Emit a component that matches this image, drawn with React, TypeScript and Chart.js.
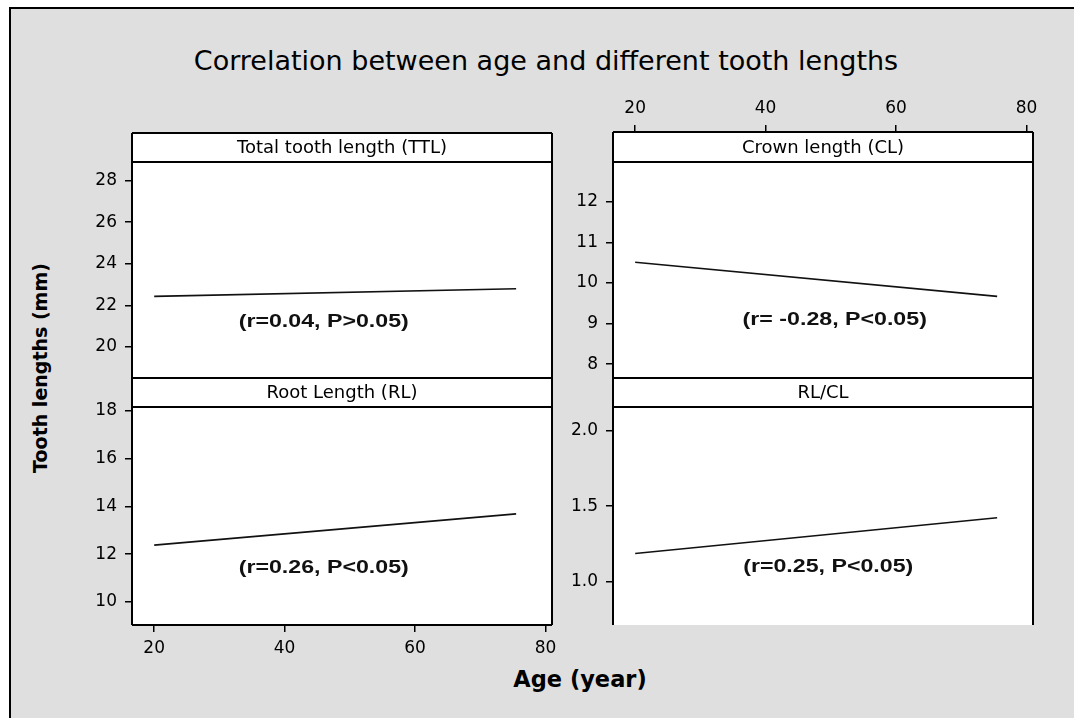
import React, { useEffect, useRef } from 'react';
import { Chart, registerables } from 'chart.js';

Chart.register(...registerables);

// ---- data ----
const ageFit = [20, 75.5];
const ttlFit = [22.43, 22.8];
const clFit = [10.51, 9.67];
const rlFit = [12.38, 13.69];
const ratioFit = [1.186, 1.423];

const xTicks = [20, 40, 60, 80];
const ttlTicks = [20, 22, 24, 26, 28];
const clTicks = [8, 9, 10, 11, 12];
const rlTicks = [10, 12, 14, 16, 18];
const ratioTicks = [1.0, 1.5, 2.0];
const ratioTickLabels = ['1.0', '1.5', '2.0'];

const xRange = [16.6, 81.0];
const ttlRange = [18.5, 28.9];
const clRange = [7.66, 12.98];
const rlRange = [9.03, 18.17];
const ratioRange = [0.71, 2.16];

const panelTitles = ['Total tooth length (TTL)', 'Crown length (CL)', 'Root Length (RL)', 'RL/CL'];
const annotations = ['(r=0.04, P>0.05)', '(r= -0.28, P<0.05)', '(r=0.26, P<0.05)', '(r=0.25, P<0.05)'];
const annotationAge = [46.0, 50.6, 46.0, 49.6];
const annotationValue = [21.23, 9.1, 11.44, 1.097];

const chartTitle = 'Correlation between age and different tooth lengths';
const yTitle = 'Tooth lengths (mm)';
const xTitle = 'Age (year)';

// ---- layout (pixels) ----
const W = 1074;
const H = 718;
const Y_W = 50;
const X_H = 40;
type PanelLayout = { left: number; right: number; top: number; header: number; bottom: number; xAxis: 'none' | 'top' | 'bottom'; bottomBorder: boolean };
const layouts: PanelLayout[] = [
  { left: 132, right: 552, top: 133, header: 29, bottom: 378, xAxis: 'none', bottomBorder: true },
  { left: 613, right: 1033, top: 132, header: 30, bottom: 378, xAxis: 'top', bottomBorder: true },
  { left: 132, right: 552, top: 378, header: 29, bottom: 625, xAxis: 'bottom', bottomBorder: true },
  { left: 613, right: 1033, top: 378, header: 29, bottom: 625, xAxis: 'none', bottomBorder: false },
];

const fits = [ttlFit, clFit, rlFit, ratioFit];
const yTicksAll = [ttlTicks, clTicks, rlTicks, ratioTicks];
const yLabelsAll: (string[] | null)[] = [null, null, null, ratioTickLabels];
const yRanges = [ttlRange, clRange, rlRange, ratioRange];

const TICK_FONT = { family: '"DejaVu Sans", sans-serif', size: 17 };

function makeConfig(i: number): any {
  const L = layouts[i];
  const [vMin, vMax] = yRanges[i];
  const plotTop = L.top + L.header;
  const extMax = vMax + ((vMax - vMin) * L.header) / (L.bottom - plotTop);
  const yTicks = yTicksAll[i];
  const yLabels = yLabelsAll[i];
  const showX = L.xAxis !== 'none';

  const panelPlugin = {
    id: 'panel' + i,
    beforeDraw(chart: any) {
      const { ctx, chartArea: a } = chart;
      ctx.save();
      ctx.fillStyle = '#ffffff';
      ctx.fillRect(a.left, a.top, a.right - a.left, a.bottom - a.top);
      ctx.restore();
    },
    afterDraw(chart: any) {
      const { ctx, chartArea: a } = chart;
      const hb = a.top + L.header;
      ctx.save();
      ctx.strokeStyle = '#000';
      ctx.lineWidth = 2;
      ctx.beginPath();
      ctx.moveTo(a.left, a.top);
      ctx.lineTo(a.right, a.top);
      ctx.moveTo(a.left, hb);
      ctx.lineTo(a.right, hb);
      ctx.moveTo(a.left, a.top);
      ctx.lineTo(a.left, a.bottom);
      ctx.moveTo(a.right, a.top);
      ctx.lineTo(a.right, a.bottom);
      if (L.bottomBorder) {
        ctx.moveTo(a.left, a.bottom);
        ctx.lineTo(a.right, a.bottom);
      }
      ctx.stroke();
      // header text
      ctx.fillStyle = '#000';
      ctx.font = '18px "DejaVu Sans", sans-serif';
      ctx.textAlign = 'center';
      ctx.textBaseline = 'middle';
      ctx.fillText(panelTitles[i], (a.left + a.right) / 2, a.top + L.header / 2 + 1);
      // annotation
      const ax = chart.scales.x.getPixelForValue(annotationAge[i]);
      const ay = chart.scales.y.getPixelForValue(annotationValue[i]);
      ctx.translate(ax, ay);
      ctx.scale(1.22, 1);
      ctx.font = 'bold 19px "Liberation Sans", Arial, sans-serif';
      ctx.fillStyle = '#111';
      ctx.fillText(annotations[i], 0, 0);
      ctx.restore();
    },
  };

  return {
    type: 'line',
    data: {
      datasets: [
        {
          data: ageFit.map((a, k) => ({ x: a, y: fits[i][k] })),
          borderColor: '#111',
          borderWidth: 1.6,
          pointRadius: 0,
          fill: false,
          tension: 0,
        },
      ],
    },
    options: {
      responsive: false,
      animation: false,
      devicePixelRatio: 1,
      layout: {
        padding: {
          left: L.left - Y_W,
          right: W - L.right,
          top: L.xAxis === 'top' ? L.top - X_H : L.top,
          bottom: L.xAxis === 'bottom' ? H - L.bottom - X_H : H - L.bottom,
        },
      },
      plugins: { legend: { display: false }, tooltip: { enabled: false }, title: { display: false } },
      scales: {
        x: {
          type: 'linear',
          position: L.xAxis === 'top' ? 'top' : 'bottom',
          display: showX,
          min: xRange[0],
          max: xRange[1],
          afterBuildTicks: (s: any) => {
            s.ticks = xTicks.map((v) => ({ value: v }));
          },
          afterFit: (s: any) => {
            s.height = showX ? X_H : 0;
          },
          grid: { drawOnChartArea: false, drawTicks: true, tickLength: 7, color: '#000', lineWidth: 1.5 },
          border: { display: false },
          ticks: { color: '#000', font: TICK_FONT, padding: 6, maxRotation: 0, autoSkip: false },
        },
        y: {
          type: 'linear',
          position: 'left',
          min: vMin,
          max: extMax,
          afterBuildTicks: (s: any) => {
            s.ticks = yTicks.map((v) => ({ value: v }));
          },
          afterFit: (s: any) => {
            s.width = Y_W;
          },
          grid: { drawOnChartArea: false, drawTicks: true, tickLength: 7, color: '#000', lineWidth: 1.5 },
          border: { display: false },
          ticks: {
            color: '#000',
            font: TICK_FONT,
            padding: 8,
            autoSkip: false,
            callback: (v: number, idx: number) => (yLabels ? yLabels[idx] : String(v)),
          },
        },
      },
    },
    plugins: [panelPlugin],
  };
}

function Panel({ index }: { index: number }) {
  const ref = useRef<HTMLCanvasElement | null>(null);
  useEffect(() => {
    if (!ref.current) return;
    const chart = new Chart(ref.current, makeConfig(index));
    return () => chart.destroy();
  }, [index]);
  return (
    <canvas
      ref={ref}
      width={W}
      height={H}
      style={{ position: 'absolute', left: 0, top: 0, width: W, height: H }}
    />
  );
}

export default function App() {
  return (
    <div style={{ position: 'absolute', left: 0, top: 0, width: W, height: H, background: '#fff', overflow: 'hidden' }}>
      <div
        style={{
          position: 'absolute',
          left: 9,
          top: 7,
          width: W - 9,
          height: H - 7,
          background: '#dfdfdf',
          borderLeft: '2px solid #000',
          borderTop: '2px solid #000',
          boxSizing: 'border-box',
        }}
      />
      <div
        style={{
          position: 'absolute',
          left: 546,
          top: 60,
          transform: 'translate(-50%, -50%)',
          fontFamily: '"DejaVu Sans", sans-serif',
          fontSize: 27,
          lineHeight: 1,
          whiteSpace: 'nowrap',
          color: '#000',
        }}
      >
        {chartTitle}
      </div>
      <div
        style={{
          position: 'absolute',
          left: 40,
          top: 368,
          transform: 'translate(-50%, -50%) rotate(-90deg)',
          fontFamily: '"DejaVu Sans", sans-serif',
          fontWeight: 'bold',
          fontSize: 19,
          lineHeight: 1,
          whiteSpace: 'nowrap',
          color: '#000',
        }}
      >
        {yTitle}
      </div>
      <div
        style={{
          position: 'absolute',
          left: 580,
          top: 679,
          transform: 'translate(-50%, -50%)',
          fontFamily: '"DejaVu Sans", sans-serif',
          fontWeight: 'bold',
          fontSize: 22.5,
          lineHeight: 1,
          whiteSpace: 'nowrap',
          color: '#000',
        }}
      >
        {xTitle}
      </div>
      {[0, 1, 2, 3].map((i) => (
        <Panel key={i} index={i} />
      ))}
    </div>
  );
}
